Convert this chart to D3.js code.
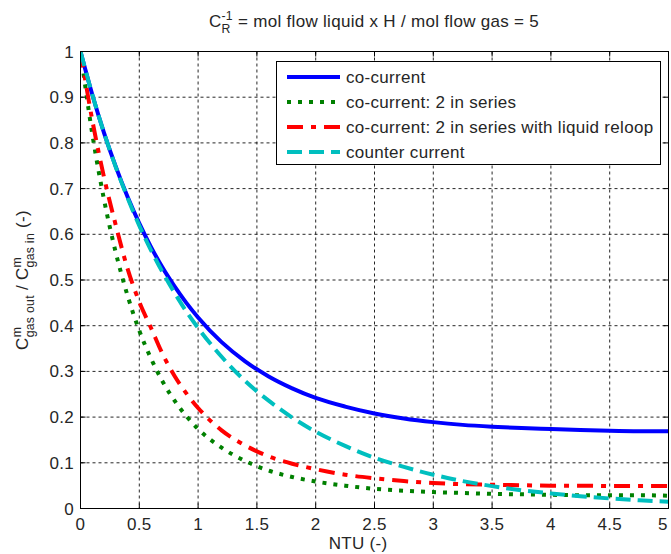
<!DOCTYPE html>
<html>
<head>
<meta charset="utf-8">
<script src="https://cdn.jsdelivr.net/npm/d3@7/dist/d3.min.js"></script>
<style>
  body { margin: 0; background: #fff; }
  svg text { font-family: "Liberation Sans", Arial, sans-serif; fill: #262626; letter-spacing: 0.3px; }
</style>
</head>
<body>
<svg id="chart" width="671" height="554"></svg>
<script>
// NTU values (x)
var ntu = [0, 0.1, 0.2, 0.3, 0.4, 0.5, 0.6, 0.7, 0.8, 0.9, 1.0,
           1.2, 1.4, 1.6, 1.8, 2.0, 2.25, 2.5, 2.75, 3.0, 3.25, 3.5,
           3.75, 4.0, 4.25, 4.5, 4.75, 5.0];

var coCurrent = [1, 0.906, 0.822, 0.748, 0.682, 0.624, 0.572, 0.526, 0.486, 0.450, 0.418,
                 0.364, 0.322, 0.289, 0.263, 0.242, 0.223, 0.208, 0.197, 0.189, 0.183, 0.179,
                 0.176, 0.174, 0.172, 0.170, 0.169, 0.169];
var coSeries = [1, 0.820, 0.676, 0.560, 0.466, 0.389, 0.328, 0.277, 0.236, 0.202, 0.174,
                0.133, 0.104, 0.083, 0.069, 0.059, 0.050, 0.043, 0.039, 0.036, 0.034, 0.032,
                0.031, 0.030, 0.029, 0.029, 0.029, 0.028];
var coReloop = [1, 0.850, 0.725, 0.620, 0.525, 0.452, 0.395, 0.337, 0.290, 0.252, 0.220,
                0.171, 0.138, 0.114, 0.098, 0.086, 0.074, 0.066, 0.060, 0.056, 0.053, 0.052,
                0.051, 0.050, 0.050, 0.049, 0.049, 0.049];
var counterCurrent = [1, 0.906, 0.822, 0.747, 0.680, 0.619, 0.565, 0.516, 0.472, 0.431, 0.395,
                      0.332, 0.279, 0.236, 0.199, 0.168, 0.137, 0.111, 0.091, 0.074, 0.060, 0.049,
                      0.040, 0.033, 0.027, 0.022, 0.018, 0.015];

var seriesNames = ["co-current", "co-current: 2 in series",
                   "co-current: 2 in series with liquid reloop", "counter current"];
var seriesColors = ["#0000ff", "#008000", "#ff0000", "#00bfbf"];
var seriesDash = [null, "4,7", "16,8,5,8", "15,7"];

var xTicks = [0, 0.5, 1, 1.5, 2, 2.5, 3, 3.5, 4, 4.5, 5];
var yTicks = [0, 0.1, 0.2, 0.3, 0.4, 0.5, 0.6, 0.7, 0.8, 0.9, 1];

var allSeries = [coCurrent, coSeries, coReloop, counterCurrent];

var plotL = 80.5, plotR = 668.5, plotT = 51.5, plotB = 508.5;
var fontSize = 17;

var svg = d3.select("#chart");

var x = d3.scaleLinear().domain([0, 5]).range([plotL, plotR]);
var y = d3.scaleLinear().domain([0, 1]).range([plotB, plotT]);

// grid
var grid = svg.append("g").attr("stroke", "#000").attr("stroke-width", 1)
    .attr("stroke-dasharray", "3,3").attr("stroke-opacity", 0.85);
grid.selectAll(".gx").data(xTicks.slice(1, -1)).enter().append("line")
    .attr("x1", function(d) { return x(d); }).attr("x2", function(d) { return x(d); })
    .attr("y1", plotT).attr("y2", plotB);
grid.selectAll(".gy").data(yTicks.slice(1, -1)).enter().append("line")
    .attr("y1", function(d) { return y(d); }).attr("y2", function(d) { return y(d); })
    .attr("x1", plotL).attr("x2", plotR);

// curves
svg.append("defs").append("clipPath").attr("id", "clip")
  .append("rect").attr("x", plotL).attr("y", plotT - 3).attr("width", plotR - plotL).attr("height", plotB - plotT + 3);

var line = d3.line()
    .x(function(d, i) { return x(ntu[i]); })
    .y(function(d) { return y(d); })
    .curve(d3.curveMonotoneX);

var plot = svg.append("g").attr("clip-path", "url(#clip)");
allSeries.forEach(function(s, i) {
  plot.append("path")
    .attr("d", line(s))
    .attr("fill", "none")
    .attr("stroke", seriesColors[i])
    .attr("stroke-width", 4)
    .attr("stroke-dasharray", seriesDash[i]);
});

// axes box
svg.append("rect").attr("x", plotL).attr("y", plotT)
  .attr("width", plotR - plotL).attr("height", plotB - plotT)
  .attr("fill", "none").attr("stroke", "#000").attr("stroke-width", 1);

var tickLen = 5;
var axisG = svg.append("g").attr("stroke", "#000").attr("stroke-width", 1);
xTicks.forEach(function(t) {
  axisG.append("line").attr("x1", x(t)).attr("x2", x(t)).attr("y1", plotB).attr("y2", plotB - tickLen);
  axisG.append("line").attr("x1", x(t)).attr("x2", x(t)).attr("y1", plotT).attr("y2", plotT + tickLen);
});
yTicks.forEach(function(t) {
  axisG.append("line").attr("y1", y(t)).attr("y2", y(t)).attr("x1", plotL).attr("x2", plotL + tickLen);
  axisG.append("line").attr("y1", y(t)).attr("y2", y(t)).attr("x1", plotR).attr("x2", plotR - tickLen);
});

// tick labels (last one pulled in so it stays inside the window)
svg.append("g").selectAll("text").data(xTicks).enter().append("text")
  .attr("x", function(d) { return Math.min(x(d), 663); })
  .attr("y", 530)
  .attr("text-anchor", "middle")
  .attr("font-size", fontSize)
  .text(function(d) { return d; });

svg.append("g").selectAll("text").data(yTicks).enter().append("text")
  .attr("x", 74)
  .attr("y", function(d) { return y(d) + 6; })
  .attr("text-anchor", "end")
  .attr("font-size", fontSize)
  .text(function(d) { return d; });

// text with stacked super/subscripts
function richText(g, parts, size) {
  var t = g.append("text").attr("font-size", size);
  var small = size * 0.72;
  var pending = 0, shift = 0;
  parts.forEach(function(p) {
    if (typeof p === "string") {
      t.append("tspan").attr("dx", pending).attr("dy", -shift).attr("font-size", size).text(p);
      pending = 0; shift = 0;
    } else {
      var sp = t.append("tspan").attr("dy", -size * 0.42).attr("font-size", small).text(p.sup);
      var ws = sp.node().getComputedTextLength();
      var sb = t.append("tspan").attr("dx", -ws).attr("dy", size * 0.78).attr("font-size", small).text(p.sub);
      var wb = sb.node().getComputedTextLength();
      pending = Math.max(ws, wb) - wb;
      shift = size * 0.36;
    }
  });
  return t;
}

richText(svg.append("g").attr("transform", "translate(374,27)"),
  ["C", {sup: "-1", sub: "R"}, " = mol flow liquid x H / mol flow gas = 5"], fontSize)
  .attr("text-anchor", "middle");

richText(svg.append("g").attr("transform", "translate(28,280) rotate(-90)"),
  ["C", {sup: "m", sub: "gas out"}, " / C", {sup: "m", sub: "gas in"}, " (-)"], fontSize)
  .attr("text-anchor", "middle");

svg.append("text").attr("x", 358).attr("y", 549).attr("text-anchor", "middle")
  .attr("font-size", fontSize).text("NTU (-)");

// legend
var legend = svg.append("g");
legend.append("rect").attr("x", 276.5).attr("y", 61.5).attr("width", 384).attr("height", 103)
  .attr("fill", "#fff").attr("stroke", "#000").attr("stroke-width", 1);
var rowY = [77, 102, 127, 152];
seriesNames.forEach(function(name, i) {
  legend.append("line").attr("x1", 287).attr("x2", 340)
    .attr("y1", rowY[i]).attr("y2", rowY[i])
    .attr("stroke", seriesColors[i]).attr("stroke-width", 4)
    .attr("stroke-dasharray", seriesDash[i]);
  legend.append("text").attr("x", 346).attr("y", rowY[i] + 6)
    .attr("font-size", fontSize).text(name);
});
</script>
</body>
</html>
